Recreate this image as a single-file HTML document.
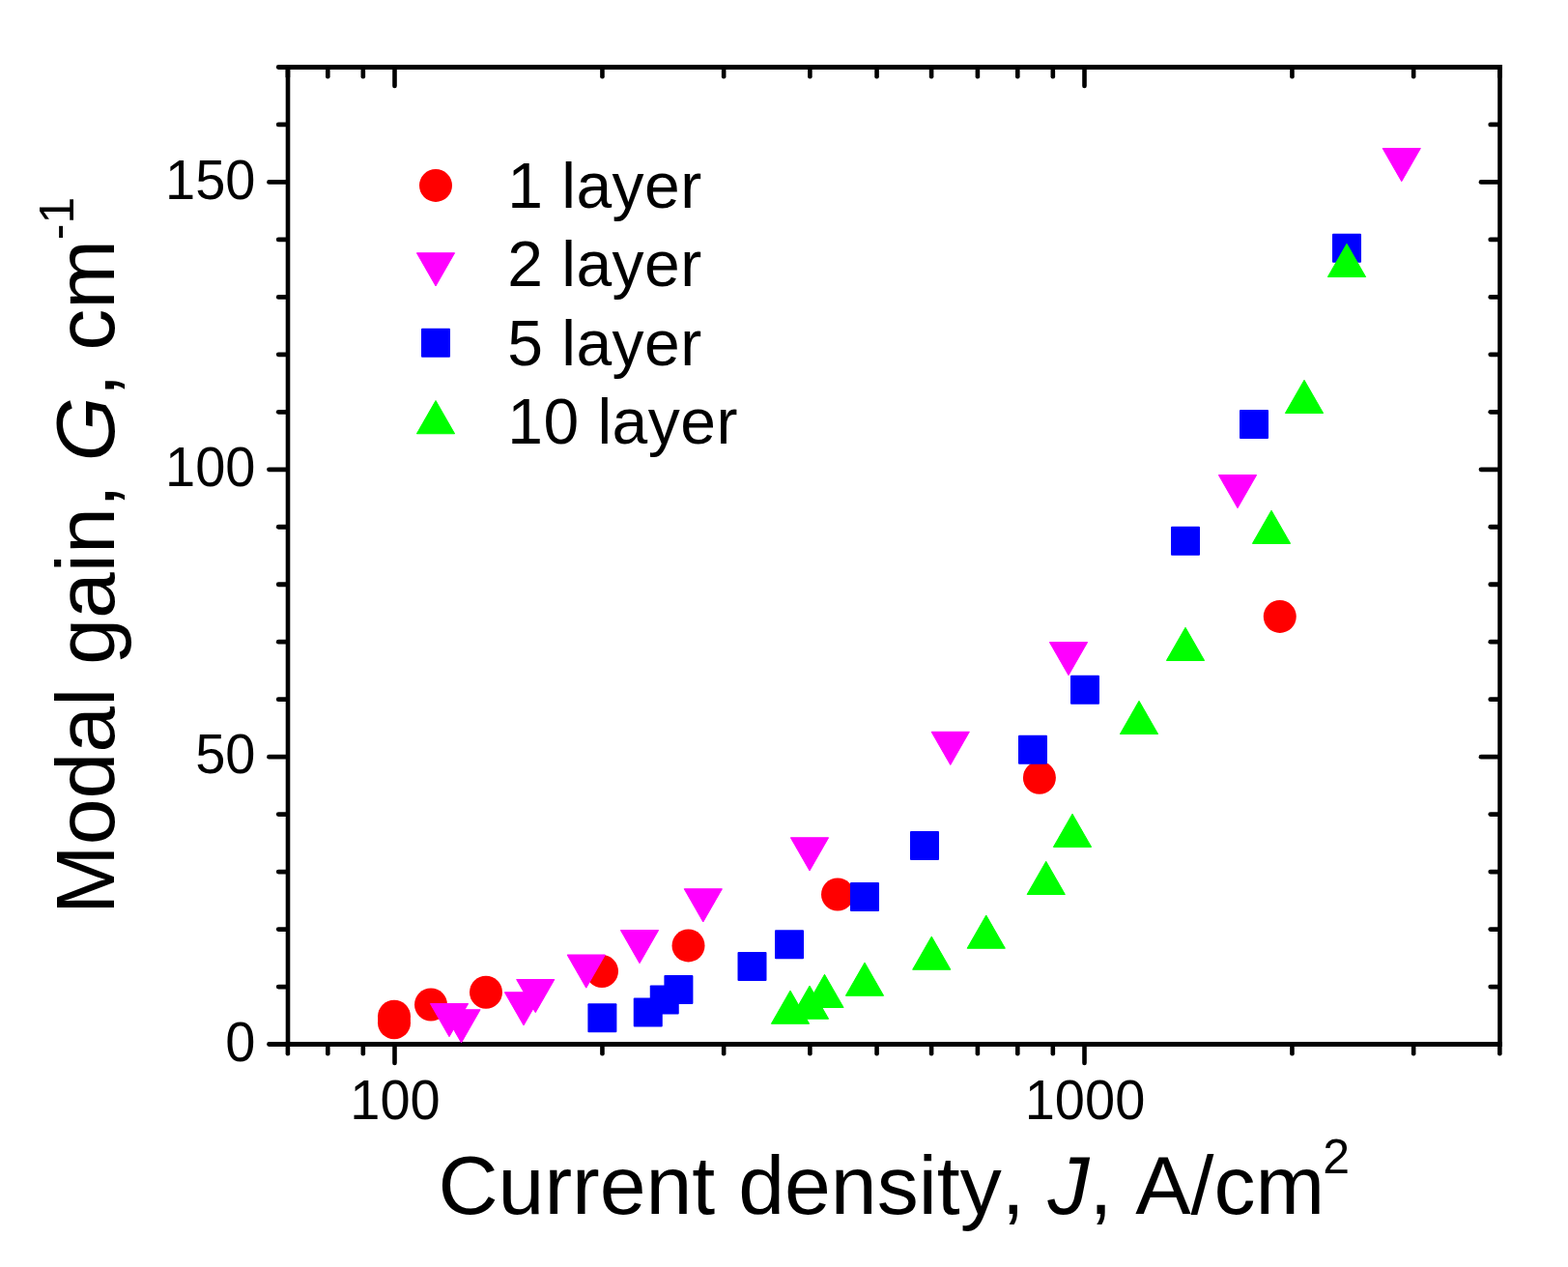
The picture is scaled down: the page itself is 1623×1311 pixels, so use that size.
<!DOCTYPE html>
<html lang="en"><head><meta charset="utf-8"><title>Modal gain vs current density</title>
<style>html,body{margin:0;padding:0;background:#fff;}body{width:1623px;height:1311px;overflow:hidden;}svg{display:block;}text{font-family:"Liberation Sans",sans-serif;fill:#000;font-kerning:none;}</style>
</head><body>
<svg width="1623" height="1311" viewBox="0 0 1623 1311">
<rect width="1623" height="1311" fill="#fff"/>
<g stroke="#000" stroke-linecap="round" fill="none"><g stroke-linecap="square"><line x1="298" y1="69.5" x2="1552.5" y2="69.5" stroke-width="4.8"/><line x1="298" y1="1080.5" x2="1552.5" y2="1080.5" stroke-width="4.8"/><line x1="298" y1="69.5" x2="298" y2="1080.5" stroke-width="4.6"/><line x1="1552.5" y1="69.5" x2="1552.5" y2="1080.5" stroke-width="4.6"/></g><line x1="278.5" y1="1080.5" x2="297" y2="1080.5" stroke-width="4.8"/><line x1="1533" y1="1080.5" x2="1551.5" y2="1080.5" stroke-width="4.8"/><line x1="288.25" y1="1021.03" x2="297" y2="1021.03" stroke-width="4.8"/><line x1="1542.75" y1="1021.03" x2="1551.5" y2="1021.03" stroke-width="4.8"/><line x1="288.25" y1="961.56" x2="297" y2="961.56" stroke-width="4.8"/><line x1="1542.75" y1="961.56" x2="1551.5" y2="961.56" stroke-width="4.8"/><line x1="288.25" y1="902.09" x2="297" y2="902.09" stroke-width="4.8"/><line x1="1542.75" y1="902.09" x2="1551.5" y2="902.09" stroke-width="4.8"/><line x1="288.25" y1="842.62" x2="297" y2="842.62" stroke-width="4.8"/><line x1="1542.75" y1="842.62" x2="1551.5" y2="842.62" stroke-width="4.8"/><line x1="278.5" y1="783.15" x2="297" y2="783.15" stroke-width="4.8"/><line x1="1533" y1="783.15" x2="1551.5" y2="783.15" stroke-width="4.8"/><line x1="288.25" y1="723.68" x2="297" y2="723.68" stroke-width="4.8"/><line x1="1542.75" y1="723.68" x2="1551.5" y2="723.68" stroke-width="4.8"/><line x1="288.25" y1="664.21" x2="297" y2="664.21" stroke-width="4.8"/><line x1="1542.75" y1="664.21" x2="1551.5" y2="664.21" stroke-width="4.8"/><line x1="288.25" y1="604.74" x2="297" y2="604.74" stroke-width="4.8"/><line x1="1542.75" y1="604.74" x2="1551.5" y2="604.74" stroke-width="4.8"/><line x1="288.25" y1="545.26" x2="297" y2="545.26" stroke-width="4.8"/><line x1="1542.75" y1="545.26" x2="1551.5" y2="545.26" stroke-width="4.8"/><line x1="278.5" y1="485.79" x2="297" y2="485.79" stroke-width="4.8"/><line x1="1533" y1="485.79" x2="1551.5" y2="485.79" stroke-width="4.8"/><line x1="288.25" y1="426.32" x2="297" y2="426.32" stroke-width="4.8"/><line x1="1542.75" y1="426.32" x2="1551.5" y2="426.32" stroke-width="4.8"/><line x1="288.25" y1="366.85" x2="297" y2="366.85" stroke-width="4.8"/><line x1="1542.75" y1="366.85" x2="1551.5" y2="366.85" stroke-width="4.8"/><line x1="288.25" y1="307.38" x2="297" y2="307.38" stroke-width="4.8"/><line x1="1542.75" y1="307.38" x2="1551.5" y2="307.38" stroke-width="4.8"/><line x1="288.25" y1="247.91" x2="297" y2="247.91" stroke-width="4.8"/><line x1="1542.75" y1="247.91" x2="1551.5" y2="247.91" stroke-width="4.8"/><line x1="278.5" y1="188.44" x2="297" y2="188.44" stroke-width="4.8"/><line x1="1533" y1="188.44" x2="1551.5" y2="188.44" stroke-width="4.8"/><line x1="288.25" y1="128.97" x2="297" y2="128.97" stroke-width="4.8"/><line x1="1542.75" y1="128.97" x2="1551.5" y2="128.97" stroke-width="4.8"/><line x1="288.25" y1="69.5" x2="297" y2="69.5" stroke-width="4.8"/><line x1="1542.75" y1="69.5" x2="1551.5" y2="69.5" stroke-width="4.8"/><line x1="297.9" y1="1081.5" x2="297.9" y2="1090.25" stroke-width="4.6"/><line x1="297.9" y1="70.5" x2="297.9" y2="79.25" stroke-width="4.6"/><line x1="339.31" y1="1081.5" x2="339.31" y2="1090.25" stroke-width="4.6"/><line x1="339.31" y1="70.5" x2="339.31" y2="79.25" stroke-width="4.6"/><line x1="375.83" y1="1081.5" x2="375.83" y2="1090.25" stroke-width="4.6"/><line x1="375.83" y1="70.5" x2="375.83" y2="79.25" stroke-width="4.6"/><line x1="408.5" y1="1081.5" x2="408.5" y2="1100" stroke-width="4.6"/><line x1="408.5" y1="70.5" x2="408.5" y2="89" stroke-width="4.6"/><line x1="623.44" y1="1081.5" x2="623.44" y2="1090.25" stroke-width="4.6"/><line x1="623.44" y1="70.5" x2="623.44" y2="79.25" stroke-width="4.6"/><line x1="749.16" y1="1081.5" x2="749.16" y2="1090.25" stroke-width="4.6"/><line x1="749.16" y1="70.5" x2="749.16" y2="79.25" stroke-width="4.6"/><line x1="838.37" y1="1081.5" x2="838.37" y2="1090.25" stroke-width="4.6"/><line x1="838.37" y1="70.5" x2="838.37" y2="79.25" stroke-width="4.6"/><line x1="907.56" y1="1081.5" x2="907.56" y2="1090.25" stroke-width="4.6"/><line x1="907.56" y1="70.5" x2="907.56" y2="79.25" stroke-width="4.6"/><line x1="964.1" y1="1081.5" x2="964.1" y2="1090.25" stroke-width="4.6"/><line x1="964.1" y1="70.5" x2="964.1" y2="79.25" stroke-width="4.6"/><line x1="1011.9" y1="1081.5" x2="1011.9" y2="1090.25" stroke-width="4.6"/><line x1="1011.9" y1="70.5" x2="1011.9" y2="79.25" stroke-width="4.6"/><line x1="1053.31" y1="1081.5" x2="1053.31" y2="1090.25" stroke-width="4.6"/><line x1="1053.31" y1="70.5" x2="1053.31" y2="79.25" stroke-width="4.6"/><line x1="1089.83" y1="1081.5" x2="1089.83" y2="1090.25" stroke-width="4.6"/><line x1="1089.83" y1="70.5" x2="1089.83" y2="79.25" stroke-width="4.6"/><line x1="1122.5" y1="1081.5" x2="1122.5" y2="1100" stroke-width="4.6"/><line x1="1122.5" y1="70.5" x2="1122.5" y2="89" stroke-width="4.6"/><line x1="1337.44" y1="1081.5" x2="1337.44" y2="1090.25" stroke-width="4.6"/><line x1="1337.44" y1="70.5" x2="1337.44" y2="79.25" stroke-width="4.6"/><line x1="1463.16" y1="1081.5" x2="1463.16" y2="1090.25" stroke-width="4.6"/><line x1="1463.16" y1="70.5" x2="1463.16" y2="79.25" stroke-width="4.6"/><line x1="1552.37" y1="1081.5" x2="1552.37" y2="1090.25" stroke-width="4.6"/><line x1="1552.37" y1="70.5" x2="1552.37" y2="79.25" stroke-width="4.6"/></g>
<g fill="#ff0000"><circle cx="408" cy="1051.75" r="17"/><circle cx="408" cy="1058.25" r="17"/><circle cx="446" cy="1039.5" r="17"/><circle cx="503" cy="1026.75" r="17"/><circle cx="623" cy="1005" r="17"/><circle cx="712.5" cy="978.4" r="17"/><circle cx="867" cy="925.5" r="17"/><circle cx="1075.9" cy="804.75" r="17"/><circle cx="1324.75" cy="637.9" r="17"/></g>
<g fill="#ff00ff" stroke="#ff00ff" stroke-width="1" stroke-linejoin="round"><polygon points="445.4,1038.5 484.6,1038.5 465,1072.7"/><polygon points="457.9,1044.75 497.1,1044.75 477.5,1078.95"/><polygon points="522.4,1026.75 561.6,1026.75 542,1060.95"/><polygon points="534.65,1013.5 573.85,1013.5 554.25,1047.7"/><polygon points="587.15,988 626.35,988 606.75,1022.2"/><polygon points="642.4,962.5 681.6,962.5 662,996.7"/><polygon points="708.2,919.75 747.4,919.75 727.8,953.95"/><polygon points="818.4,866.75 857.6,866.75 838,900.95"/><polygon points="964.15,757.25 1003.35,757.25 983.75,791.45"/><polygon points="1086.4,664.5 1125.6,664.5 1106,698.7"/><polygon points="1261.4,491.5 1300.6,491.5 1281,525.7"/><polygon points="1431.15,153.5 1470.35,153.5 1450.75,187.7"/></g>
<g fill="#0000ff"><rect x="608.4" y="1038.25" width="30" height="30" rx="1"/><rect x="655.75" y="1032.5" width="30" height="30" rx="1"/><rect x="672.75" y="1019.4" width="30" height="30" rx="1"/><rect x="687.4" y="1008.9" width="30" height="30" rx="1"/><rect x="763.5" y="984.9" width="30" height="30" rx="1"/><rect x="802" y="962.25" width="30" height="30" rx="1"/><rect x="880" y="912.9" width="30" height="30" rx="1"/><rect x="942" y="859.9" width="30" height="30" rx="1"/><rect x="1054" y="760.75" width="30" height="30" rx="1"/><rect x="1108" y="698.75" width="30" height="30" rx="1"/><rect x="1212" y="544.8" width="30" height="30" rx="1"/><rect x="1283" y="423.9" width="30" height="30" rx="1"/><rect x="1379" y="241.75" width="30" height="30" rx="1"/></g>
<g fill="#00ff00" stroke="#00ff00" stroke-width="1" stroke-linejoin="round"><polygon points="798.4,1059.25 837.6,1059.25 818,1025.05"/><polygon points="818.4,1054.25 857.6,1054.25 838,1020.05"/><polygon points="833.9,1042.5 873.1,1042.5 853.5,1008.3"/><polygon points="875.4,1030.25 914.6,1030.25 895,996.05"/><polygon points="944.65,1003.25 983.85,1003.25 964.25,969.05"/><polygon points="1001.15,981.25 1040.35,981.25 1020.75,947.05"/><polygon points="1063.15,925.5 1102.35,925.5 1082.75,891.3"/><polygon points="1090.4,876.4 1129.6,876.4 1110,842.2"/><polygon points="1159.4,759.5 1198.6,759.5 1179,725.3"/><polygon points="1207.4,683.5 1246.6,683.5 1227,649.3"/><polygon points="1296.4,562.4 1335.6,562.4 1316,528.2"/><polygon points="1330.4,427.5 1369.6,427.5 1350,393.3"/><polygon points="1374.4,286.5 1413.6,286.5 1394,252.3"/></g>
<g font-size="56" text-anchor="end">
<text id="yt0" transform="translate(264.5,1097.8) scale(1,1.025)">0</text>
<text id="yt50" transform="translate(264.5,800.45) scale(1,1.025)">50</text>
<text id="yt100" transform="translate(264.5,503.09) scale(1,1.025)">100</text>
<text id="yt150" transform="translate(264.5,205.74) scale(1,1.025)">150</text>
</g>
<g font-size="56" text-anchor="middle">
<text id="xt100" transform="translate(409,1158) scale(1,1.025)">100</text>
<text id="xt1000" transform="translate(1123,1158) scale(1,1.025)">1000</text>
</g>
<text id="xtitle" x="453.5" y="1256" font-size="86">Current density, <tspan font-style="italic">J</tspan>, A/cm<tspan font-size="50" dx="-2" dy="-42">2</tspan></text>
<text id="ytitle" transform="translate(118,946) rotate(-90)" font-size="86">Modal gain, <tspan font-style="italic">G</tspan>, cm<tspan font-size="50" dy="-42">-1</tspan></text>
<g>
<g fill="#ff0000"><circle cx="451" cy="191.9" r="17"/></g>
<g fill="#ff00ff" stroke="#ff00ff" stroke-width="1" stroke-linejoin="round"><polygon points="431.4,261.75 470.6,261.75 451,295.95"/></g>
<g fill="#0000ff"><rect x="436" y="339.75" width="30" height="30" rx="1"/></g>
<g fill="#00ff00" stroke="#00ff00" stroke-width="1" stroke-linejoin="round"><polygon points="431.4,448.75 470.6,448.75 451,414.55"/></g>
<text id="leg0" x="525.2" y="214.5" font-size="66" letter-spacing="0.5">1 layer</text>
<text id="leg1" x="525.2" y="296" font-size="66" letter-spacing="0.5">2 layer</text>
<text id="leg2" x="525.2" y="377.5" font-size="66" letter-spacing="0.5">5 layer</text>
<text id="leg3" x="525.2" y="458.75" font-size="66" letter-spacing="0.5">10 layer</text>
</g>
</svg></body></html>
